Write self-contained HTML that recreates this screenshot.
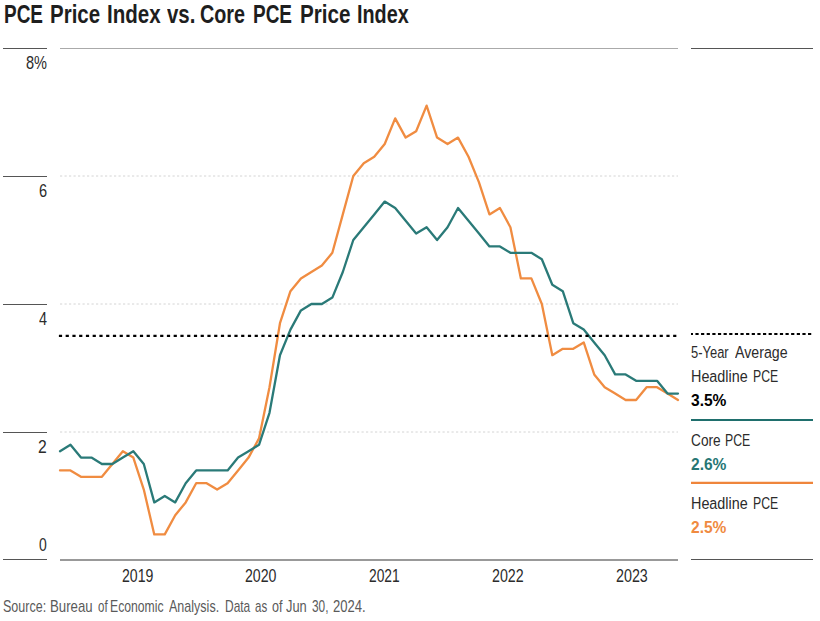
<!DOCTYPE html>
<html><head><meta charset="utf-8"><title>PCE Price Index vs. Core PCE Price Index</title>
<style>
html,body{margin:0;padding:0;background:#fff;}
body{width:820px;height:621px;position:relative;overflow:hidden;font-family:"Liberation Sans",sans-serif;color:#2b2b2b;}
.t{position:absolute;white-space:nowrap;transform-origin:0 0;line-height:1;}
svg{position:absolute;left:0;top:0;}
</style></head><body>
<svg width="820" height="621" viewBox="0 0 820 621">
<g fill="none">
<line x1="60" x2="678" y1="48.5" y2="48.5" stroke="#aaaaaa" stroke-width="1"/>
<line x1="60" x2="678" y1="176.00" y2="176.00" stroke="#d4d4d4" stroke-width="1" stroke-dasharray="2.2 2.3"/>
<line x1="60" x2="678" y1="304.00" y2="304.00" stroke="#d4d4d4" stroke-width="1" stroke-dasharray="2.2 2.3"/>
<line x1="60" x2="678" y1="432.00" y2="432.00" stroke="#d4d4d4" stroke-width="1" stroke-dasharray="2.2 2.3"/>
<line x1="60" x2="678" y1="560" y2="560" stroke="#999999" stroke-width="2"/>
<line x1="3" x2="47" y1="48.5" y2="48.5" stroke="#555" stroke-width="1"/>
<line x1="3" x2="47" y1="176.5" y2="176.5" stroke="#555" stroke-width="1"/>
<line x1="3" x2="47" y1="304.5" y2="304.5" stroke="#555" stroke-width="1"/>
<line x1="3" x2="47" y1="432.5" y2="432.5" stroke="#555" stroke-width="1"/>
<line x1="3" x2="47" y1="559.5" y2="559.5" stroke="#555" stroke-width="1"/>
<line x1="691" x2="813" y1="48.5" y2="48.5" stroke="#555" stroke-width="1"/>
<line x1="691" x2="813" y1="559.5" y2="559.5" stroke="#555" stroke-width="1"/>
<path d="M60.00 470.40 L70.47 470.40 L80.95 476.80 L91.42 476.80 L101.90 476.80 L112.37 464.00 L122.85 451.20 L133.32 457.60 L143.80 489.60 L154.27 534.40 L164.75 534.40 L175.22 515.20 L185.69 502.40 L196.17 483.20 L206.64 483.20 L217.12 489.60 L227.59 483.20 L238.07 470.40 L248.54 457.60 L259.02 438.40 L269.49 387.20 L279.97 323.20 L290.44 291.20 L300.92 278.40 L311.39 272.00 L321.86 265.60 L332.34 252.80 L342.81 214.40 L353.29 176.00 L363.76 163.20 L374.24 156.80 L384.71 144.00 L395.19 118.40 L405.66 137.60 L416.14 131.20 L426.61 105.60 L437.08 137.60 L447.56 144.00 L458.03 137.60 L468.51 156.80 L478.98 182.40 L489.46 214.40 L499.93 208.00 L510.41 227.20 L520.88 278.40 L531.36 278.40 L541.83 304.00 L552.31 355.20 L562.78 348.80 L573.25 348.80 L583.73 342.40 L594.20 374.40 L604.68 387.20 L615.15 393.60 L625.63 400.00 L636.10 400.00 L646.58 387.20 L657.05 387.20 L667.53 393.60 L678.00 400.00" stroke="#f08c41" stroke-width="2.3" stroke-linejoin="round" stroke-linecap="round"/>
<path d="M60.00 451.20 L70.47 444.80 L80.95 457.60 L91.42 457.60 L101.90 464.00 L112.37 464.00 L122.85 457.60 L133.32 451.20 L143.80 464.00 L154.27 502.40 L164.75 496.00 L175.22 502.40 L185.69 483.20 L196.17 470.40 L206.64 470.40 L217.12 470.40 L227.59 470.40 L238.07 457.60 L248.54 451.20 L259.02 444.80 L269.49 412.80 L279.97 355.20 L290.44 329.60 L300.92 310.40 L311.39 304.00 L321.86 304.00 L332.34 297.60 L342.81 272.00 L353.29 240.00 L363.76 227.20 L374.24 214.40 L384.71 201.60 L395.19 208.00 L405.66 220.80 L416.14 233.60 L426.61 227.20 L437.08 240.00 L447.56 227.20 L458.03 208.00 L468.51 220.80 L478.98 233.60 L489.46 246.40 L499.93 246.40 L510.41 252.80 L520.88 252.80 L531.36 252.80 L541.83 259.20 L552.31 284.80 L562.78 291.20 L573.25 323.20 L583.73 329.60 L594.20 342.40 L604.68 355.20 L615.15 374.40 L625.63 374.40 L636.10 380.80 L646.58 380.80 L657.05 380.80 L667.53 393.60 L678.00 393.60" stroke="#2a7a78" stroke-width="2.3" stroke-linejoin="round" stroke-linecap="round"/>
<line x1="58.9" x2="678" y1="335.8" y2="335.8" stroke="#000" stroke-width="2.2" stroke-dasharray="3.2 3.55"/>
<line x1="691" x2="812" y1="334" y2="334" stroke="#000" stroke-width="2.2" stroke-dasharray="3.2 2.43" stroke-dashoffset="1.2"/>
<line x1="691" x2="813" y1="420" y2="420" stroke="#1f6f6d" stroke-width="2.2"/>
<line x1="691" x2="813" y1="482.95" y2="482.95" stroke="#ef853b" stroke-width="2.2"/>
</g>
</svg>
<div id="t1" class="t" style="left:3.75px;top:2.00px;font-size:25.4px;transform:scaleX(0.7475);color:#1e1e1e;font-weight:bold;">PCE</div>
<div id="t2" class="t" style="left:50.00px;top:2.00px;font-size:25.4px;transform:scaleX(0.8067);color:#1e1e1e;font-weight:bold;">Price</div>
<div id="t3" class="t" style="left:106.50px;top:2.00px;font-size:25.4px;transform:scaleX(0.8093);color:#1e1e1e;font-weight:bold;">Index</div>
<div id="t4" class="t" style="left:166.75px;top:2.00px;font-size:25.4px;transform:scaleX(0.8045);color:#1e1e1e;font-weight:bold;">vs.</div>
<div id="t5" class="t" style="left:200.15px;top:2.00px;font-size:25.4px;transform:scaleX(0.7786);color:#1e1e1e;font-weight:bold;">Core</div>
<div id="t6" class="t" style="left:253.35px;top:2.00px;font-size:25.4px;transform:scaleX(0.7475);color:#1e1e1e;font-weight:bold;">PCE</div>
<div id="t7" class="t" style="left:299.50px;top:2.00px;font-size:25.4px;transform:scaleX(0.8134);color:#1e1e1e;font-weight:bold;">Price</div>
<div id="t8" class="t" style="left:356.85px;top:2.00px;font-size:25.4px;transform:scaleX(0.7798);color:#1e1e1e;font-weight:bold;">Index</div>
<div id="y8" class="t" style="left:26.05px;top:54.00px;font-size:18.1px;transform:scaleX(0.8041);color:#2b2b2b;">8%</div>
<div id="y6" class="t" style="left:38.74px;top:182.00px;font-size:18.1px;transform:scaleX(0.8066);color:#2b2b2b;">6</div>
<div id="y4" class="t" style="left:38.75px;top:310.00px;font-size:18.1px;transform:scaleX(0.7949);color:#2b2b2b;">4</div>
<div id="y2" class="t" style="left:38.27px;top:438.00px;font-size:18.1px;transform:scaleX(0.8672);color:#2b2b2b;">2</div>
<div id="y0" class="t" style="left:39.09px;top:536.00px;font-size:18.1px;transform:scaleX(0.7709);color:#2b2b2b;">0</div>
<div id="x0" class="t" style="left:121.65px;top:567.00px;font-size:18.1px;transform:scaleX(0.7792);color:#2b2b2b;">2019</div>
<div id="x1" class="t" style="left:245.15px;top:567.00px;font-size:18.1px;transform:scaleX(0.7818);color:#2b2b2b;">2020</div>
<div id="x2" class="t" style="left:368.95px;top:567.00px;font-size:18.1px;transform:scaleX(0.7634);color:#2b2b2b;">2021</div>
<div id="x3" class="t" style="left:492.15px;top:567.00px;font-size:18.1px;transform:scaleX(0.7883);color:#2b2b2b;">2022</div>
<div id="x4" class="t" style="left:615.75px;top:567.00px;font-size:18.1px;transform:scaleX(0.7896);color:#2b2b2b;">2023</div>
<div id="l1a" class="t" style="left:691.40px;top:345.00px;font-size:16.9px;transform:scaleX(0.7657);color:#2b2b2b;">5-Year</div>
<div id="l1b" class="t" style="left:734.50px;top:345.00px;font-size:16.9px;transform:scaleX(0.8413);color:#2b2b2b;">Average</div>
<div id="l2a" class="t" style="left:691.40px;top:369.00px;font-size:16.9px;transform:scaleX(0.8509);color:#2b2b2b;">Headline</div>
<div id="l2b" class="t" style="left:752.80px;top:369.00px;font-size:16.9px;transform:scaleX(0.7277);color:#2b2b2b;">PCE</div>
<div id="l3" class="t" style="left:691.40px;top:393.00px;font-size:16.9px;transform:scaleX(0.9200);color:#000000;font-weight:bold;">3.5%</div>
<div id="l4a" class="t" style="left:691.14px;top:433.00px;font-size:16.9px;transform:scaleX(0.8100);color:#2b2b2b;">Core</div>
<div id="l4b" class="t" style="left:725.00px;top:433.00px;font-size:16.9px;transform:scaleX(0.7277);color:#2b2b2b;">PCE</div>
<div id="l5" class="t" style="left:691.40px;top:457.00px;font-size:16.9px;transform:scaleX(0.9200);color:#267674;font-weight:bold;">2.6%</div>
<div id="l6a" class="t" style="left:691.40px;top:496.00px;font-size:16.9px;transform:scaleX(0.8509);color:#2b2b2b;">Headline</div>
<div id="l6b" class="t" style="left:752.80px;top:496.00px;font-size:16.9px;transform:scaleX(0.7277);color:#2b2b2b;">PCE</div>
<div id="l7" class="t" style="left:691.40px;top:520.00px;font-size:16.9px;transform:scaleX(0.9200);color:#f08a40;font-weight:bold;">2.5%</div>
<div id="s1" class="t" style="left:3.15px;top:598.00px;font-size:16.1px;transform:scaleX(0.7775);color:#5a5a5a;">Source:</div>
<div id="s2" class="t" style="left:50.40px;top:598.00px;font-size:16.1px;transform:scaleX(0.8212);color:#5a5a5a;">Bureau</div>
<div id="s3" class="t" style="left:97.73px;top:598.00px;font-size:16.1px;transform:scaleX(0.7153);color:#5a5a5a;">of</div>
<div id="s4" class="t" style="left:110.20px;top:598.00px;font-size:16.1px;transform:scaleX(0.7580);color:#5a5a5a;">Economic</div>
<div id="s5" class="t" style="left:169.40px;top:598.00px;font-size:16.1px;transform:scaleX(0.7786);color:#5a5a5a;">Analysis.</div>
<div id="s6" class="t" style="left:224.70px;top:598.00px;font-size:16.1px;transform:scaleX(0.7436);color:#5a5a5a;">Data</div>
<div id="s7" class="t" style="left:255.16px;top:598.00px;font-size:16.1px;transform:scaleX(0.7153);color:#5a5a5a;">as</div>
<div id="s8" class="t" style="left:271.69px;top:598.00px;font-size:16.1px;transform:scaleX(0.7805);color:#5a5a5a;">of</div>
<div id="s9" class="t" style="left:286.35px;top:598.00px;font-size:16.1px;transform:scaleX(0.8001);color:#5a5a5a;">Jun</div>
<div id="s10" class="t" style="left:312.40px;top:598.00px;font-size:16.1px;transform:scaleX(0.7358);color:#5a5a5a;">30,</div>
<div id="s11" class="t" style="left:333.15px;top:598.00px;font-size:16.1px;transform:scaleX(0.8106);color:#5a5a5a;">2024.</div>
</body></html>
